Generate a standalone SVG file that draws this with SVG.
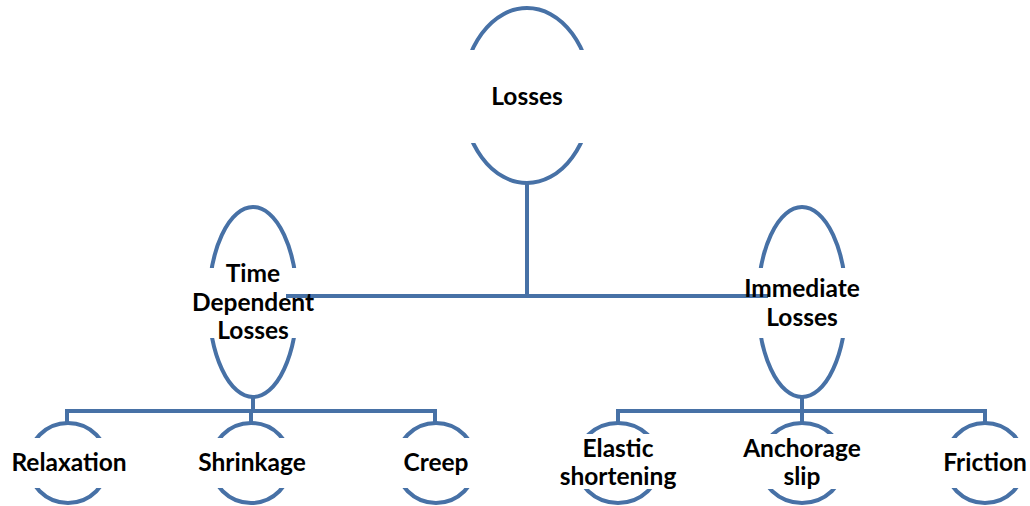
<svg xmlns="http://www.w3.org/2000/svg" width="1030" height="506" viewBox="0 0 1030 506">
<style>
.sh{fill:none;stroke:#4771A6;stroke-width:4}
.cn{fill:none;stroke:#4771A6;stroke-width:4}
.t{font-family:Lato,"Liberation Sans",Arial,sans-serif;font-weight:bold;font-size:24.5px;fill:#000;text-anchor:middle}
</style>
<defs>
<clipPath id="cLoss" clipPathUnits="userSpaceOnUse"><rect x="0" y="0" width="1030" height="50"/><rect x="0" y="143" width="1030" height="100"/></clipPath>
<clipPath id="cMid" clipPathUnits="userSpaceOnUse"><rect x="0" y="150" width="1030" height="118"/><rect x="0" y="338" width="1030" height="70"/></clipPath>
<clipPath id="cLow1" clipPathUnits="userSpaceOnUse"><rect x="0" y="415" width="1030" height="23"/><rect x="0" y="488" width="1030" height="18"/></clipPath>
<clipPath id="cLow2" clipPathUnits="userSpaceOnUse"><rect x="0" y="415" width="1030" height="19"/><rect x="0" y="489" width="1030" height="17"/></clipPath>
</defs>
<g id="connectors">
<path class="cn" d="M527 183V296M286 296H768"/>
<path class="cn" d="M253 397V411M67 423V411H435V423M251 411V423"/>
<path class="cn" d="M802 397V411M618 423V411H985V423M802 411V423"/>
</g>
<g id="n-losses">
<ellipse class="sh" cx="527" cy="95.5" rx="64" ry="87.5" clip-path="url(#cLoss)"/>
<text class="t" x="527" y="105">Losses</text>
</g>
<g id="n-time">
<ellipse class="sh" cx="253" cy="302" rx="44" ry="95" clip-path="url(#cMid)"/>
<text class="t" x="253" y="282">Time</text>
<text class="t" x="253" y="311">Dependent</text>
<text class="t" x="253" y="339">Losses</text>
</g>
<g id="n-immediate">
<ellipse class="sh" cx="802" cy="302" rx="44" ry="95" clip-path="url(#cMid)"/>
<text class="t" x="802" y="297">Immediate</text>
<text class="t" x="802" y="326">Losses</text>
</g>
<g id="n-relaxation">
<ellipse class="sh" cx="68" cy="463" rx="40" ry="40" clip-path="url(#cLow1)"/>
<text class="t" x="69" y="471">Relaxation</text>
</g>
<g id="n-shrinkage">
<ellipse class="sh" cx="251" cy="463" rx="40" ry="40" clip-path="url(#cLow1)"/>
<text class="t" x="252" y="471">Shrinkage</text>
</g>
<g id="n-creep">
<ellipse class="sh" cx="436" cy="463" rx="40" ry="40" clip-path="url(#cLow1)"/>
<text class="t" x="436" y="471">Creep</text>
</g>
<g id="n-elastic">
<ellipse class="sh" cx="618" cy="463" rx="42" ry="40" clip-path="url(#cLow2)"/>
<text class="t" x="618" y="457">Elastic</text>
<text class="t" x="618" y="485">shortening</text>
</g>
<g id="n-anchorage">
<ellipse class="sh" cx="802" cy="463" rx="42" ry="40" clip-path="url(#cLow2)"/>
<text class="t" x="802" y="457">Anchorage</text>
<text class="t" x="802" y="485">slip</text>
</g>
<g id="n-friction">
<ellipse class="sh" cx="985" cy="463" rx="40" ry="40" clip-path="url(#cLow1)"/>
<text class="t" x="985" y="471">Friction</text>
</g>
</svg>
